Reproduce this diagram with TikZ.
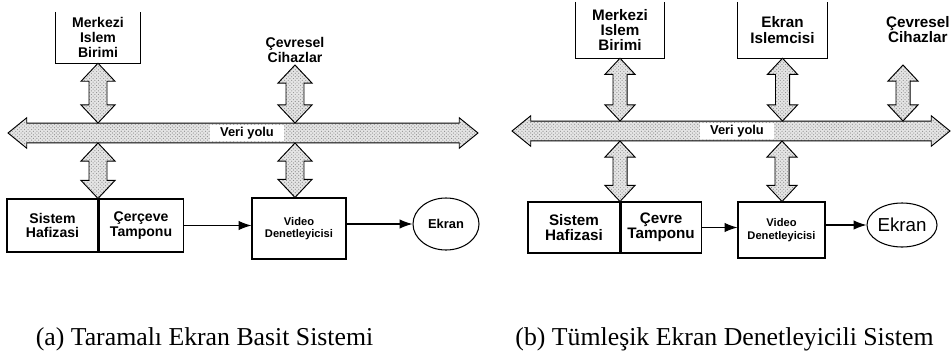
\documentclass[tikz,border=0pt]{standalone}
\usepackage{fontspec}
\setmainfont{Liberation Serif}
\newfontfamily\lblfont{Liberation Sans}
\usepackage{tikz}
\usetikzlibrary{arrows.meta}
\usetikzlibrary{shapes.geometric}
\usetikzlibrary{patterns}
\usetikzlibrary{calc}

% sizes of the vertical fat arrows (shaft half width, head half width, head length)
\def\sw{7.7pt}
\def\hw{14.5pt}
\def\hl{15.4pt}

\newcommand{\fatv}[2]{%
  \path[fat] let \p1=(#1), \p2=(#2) in
    (\x1,\y1) -- (\x1+\hw,\y1-\hl) -- (\x1+\sw,\y1-\hl) -- (\x1+\sw,\y2+\hl)
    -- (\x1+\hw,\y2+\hl) -- (\x1,\y2) -- (\x1-\hw,\y2+\hl) -- (\x1-\sw,\y2+\hl)
    -- (\x1-\sw,\y1-\hl) -- (\x1-\hw,\y1-\hl) -- cycle;}

\newcommand{\fath}[2]{%
  \path[fat] let \p1=(#1), \p2=(#2) in
    (\x1,\y1) -- (\x1+16pt,\y1+13pt) -- (\x1+16pt,\y1+8.5pt) -- (\x2-16pt,\y1+8.5pt)
    -- (\x2-16pt,\y1+13pt) -- (\x2,\y1) -- (\x2-16pt,\y1-13pt) -- (\x2-16pt,\y1-8.5pt)
    -- (\x1+16pt,\y1-8.5pt) -- (\x1+16pt,\y1-13pt) -- cycle;}

\begin{document}
\begin{tikzpicture}[x=0.03cm,y=-0.03cm,
    box/.style={draw,line width=0.9pt,rectangle,inner sep=0pt,align=center},
    lbl/.style={font=\lblfont\bfseries\fontsize{12}{12.5}\selectfont,align=center},
    lblb/.style={font=\lblfont\bfseries\fontsize{13}{13.2}\selectfont,align=center},
    small/.style={font=\lblfont\bfseries\fontsize{9.5}{10.5}\selectfont,align=center},
    sig/.style={line width=0.9pt,-{Latex[length=11pt,width=8pt]}},
    fat/.style={preaction={fill=black!10},pattern=crosshatch dots,pattern color=black!45,draw,line width=0.8pt},
    bustext/.style={font=\lblfont\bfseries\fontsize{11}{12}\selectfont,fill=white,inner xsep=9pt,inner ysep=0pt,minimum height=0.5cm},
    captext/.style={font=\fontsize{22}{26}\selectfont}]
  \useasboundingbox (0,0) rectangle (951,358);

  % (a)
  \node[lbl,minimum width=2.55cm,minimum height=1.53cm] (cpuA) at (98,37.5) {Merkezi\\Islem\\Birimi};
  \draw[line width=0.9pt] (cpuA.north west) -- (cpuA.south west) -- (cpuA.south east) -- (cpuA.north east);
  \node[lbl] (perA) at (295,50) {Çevresel\\Cihazlar};
  \node[box,lbl,minimum width=2.73cm,minimum height=1.59cm] (sysA) at (52.5,225.5) {Sistem\\Hafizasi};
  \node[box,lbl,minimum width=2.52cm,minimum height=1.59cm,anchor=west] (frmA) at (sysA.east) {Çerçeve\\Tamponu};
  \node[box,small,minimum width=2.82cm,minimum height=1.83cm] (vidA) at (299,228.5) {Video\\Denetleyicisi};
  \node[ellipse,draw,line width=0.9pt,font=\lblfont\bfseries\fontsize{11}{12}\selectfont,
        minimum width=1.98cm,minimum height=1.56cm,inner sep=0pt] (ekrA) at (446,224) {Ekran};

  \coordinate (busAl) at (8,133);
  \coordinate (busAr) at (478,133);
  \coordinate (jA1t) at (98,123);
  \coordinate (jA1b) at (98,143);
  \coordinate (jA2t) at (295,123);
  \coordinate (jA2b) at (295,143);
  \coordinate (perAa) at (295,65);

  \fath{busAl}{busAr}
  \fatv{cpuA.south}{jA1t}
  \fatv{perAa}{jA2t}
  \fatv{jA1b}{sysA.north east}
  \fatv{jA2b}{vidA.north}
  \node[bustext] (veriA) at (247,133) {Veri yolu};

  \draw[sig] (frmA.east) -- (frmA.east -| vidA.west);
  \draw[sig] (vidA.east |- ekrA.west) -- (ekrA.west);

  \node[captext] (capA) at (204.5,339) {(a) Taramalı Ekran Basit Sistemi};

  % (b)
  \def\sw{6pt}
  \def\hw{12.8pt}
  \def\hl{13.7pt}
  \node[lblb,minimum width=2.64cm,minimum height=1.68cm] (cpuB) at (620,30) {Merkezi\\Islem\\Birimi};
  \draw[line width=0.9pt] (cpuB.north west) -- (cpuB.south west) -- (cpuB.south east) -- (cpuB.north east);
  \node[lblb,minimum width=2.67cm,minimum height=1.68cm] (eprB) at (782.5,30) {Ekran\\Islemcisi};
  \draw[line width=0.9pt] (eprB.north west) -- (eprB.south west) -- (eprB.south east) -- (eprB.north east);
  \node[lblb,anchor=east,inner xsep=1pt] (perB) at (951,29.5) {Çevresel\\Cihazlar};
  \node[box,lblb,minimum width=2.76cm,minimum height=1.53cm] (sysB) at (574,227.5) {Sistem\\Hafizasi};
  \node[box,lblb,minimum width=2.4cm,minimum height=1.53cm,anchor=west] (cevB) at (sysB.east) {Çevre\\Tamponu};
  \node[box,small,minimum width=2.61cm,minimum height=1.68cm] (vidB) at (781.5,230) {Video\\Denetleyicisi};
  \node[ellipse,draw,line width=0.9pt,font=\lblfont\fontsize{16}{17}\selectfont,
        minimum width=2.1cm,minimum height=1.32cm,inner sep=0pt] (ekrB) at (902,225) {Ekran};

  \coordinate (busBl) at (512,131);
  \coordinate (busBr) at (950,131);
  \coordinate (jB1t) at (620,121);
  \coordinate (jB1b) at (620,141);
  \coordinate (jB2t) at (782,121);
  \coordinate (jB2b) at (782,141);
  \coordinate (jB3t) at (903,121);
  \coordinate (perBa) at (903,65);

  \fath{busBl}{busBr}
  \fatv{cpuB.south}{jB1t}
  \fatv{eprB.south}{jB2t}
  \fatv{perBa}{jB3t}
  \fatv{jB1b}{sysB.north east}
  \fatv{jB2b}{vidB.north}
  \node[bustext] (veriB) at (737,131) {Veri yolu};

  \draw[sig] (cevB.east) -- (cevB.east -| vidB.west);
  \draw[sig] (vidB.east |- ekrB.west) -- (ekrB.west);

  \node[captext] (capB) at (724.5,339) {(b) Tümleşik Ekran Denetleyicili Sistem};
\end{tikzpicture}
\end{document}
